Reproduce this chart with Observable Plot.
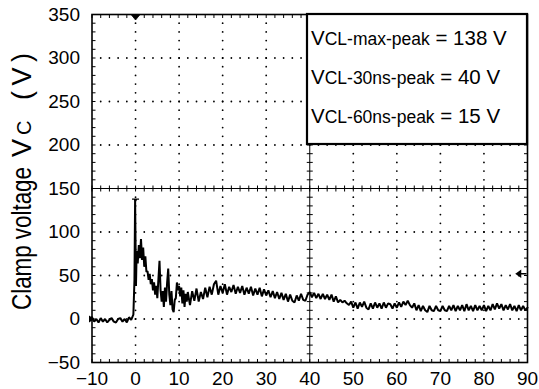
<!DOCTYPE html>
<html><head><meta charset="utf-8">
<script src="https://cdn.jsdelivr.net/npm/d3@7"></script>
<script src="https://cdn.jsdelivr.net/npm/@observablehq/plot@0.6"></script>
<style>
html,body{margin:0;padding:0;background:#fff;}
#chart{width:539px;height:389px;overflow:hidden;position:relative;}
svg text{white-space:pre;}
</style></head><body><div id="chart"></div>
<script>
// ---- data ----
const xTicks = [-10, 0, 10, 20, 30, 40, 50, 60, 70, 80, 90];
const yTicks = [-50, 0, 50, 100, 150, 200, 250, 300, 350];

const time = [
  -10,-9.5,-9,-8.5,-8,-7.5,-7,-6.5,-6,-5.5,-5,-4.5,-4,-3.5,-3,-2.5,-2,-1.5,-1,-0.5,-0.25,-0.1,0.1,
  0.25,0.5,0.75,1,1.25,1.5,1.75,2,2.25,2.5,2.75,3,3.25,3.5,3.75,4,4.25,4.5,4.75,5,5.25,5.5,5.75,6,
  6.25,6.5,6.75,7,7.25,7.5,7.75,8,8.25,8.5,8.75,9,9.25,9.5,9.75,10,10.25,10.5,10.75,11,11.25,11.5,11.75,12,
  12.5,13,13.5,14,14.5,15,15.5,16,16.5,17,17.5,18,18.5,19,19.5,20,20.5,21,21.5,22,22.5,23,23.5,24,24.5,25,
  25.5,26,26.5,27,27.5,28,28.5,29,29.5,30,30.5,31,31.5,32,32.5,33,33.5,34,34.5,35,35.5,36,36.5,37,37.5,38,
  38.5,39,39.5,40,40.5,41,41.5,42,42.5,43,43.5,44,44.5,45,45.5,46,46.5,47,47.5,48,48.5,49,49.5,50,50.5,51,
  51.5,52,52.5,53,53.5,54,54.5,55,55.5,56,56.5,57,57.5,58,58.5,59,59.5,60,60.5,61,61.5,62,62.5,63,63.5,64,
  64.5,65,65.5,66,66.5,67,67.5,68,68.5,69,69.5,70,70.5,71,71.5,72,72.5,73,73.5,74,74.5,75,75.5,76,76.5,77,
  77.5,78,78.5,79,79.5,80,80.5,81,81.5,82,82.5,83,83.5,84,84.5,85,85.5,86,86.5,87,87.5,88,88.5,89,89.5,90
];
const voltage = [
  2,-3,0,-4,1,-3,0,-4,-1,1,-3,-4,0,1,-3,0,-4,2,-1,5,45,138,38,
  78,64,85,70,92,68,82,60,72,54,55,45,52,40,46,33,42,28,38,24,46,67,33,20,
  32,14,36,20,42,58,28,16,32,11,8,22,24,42,33,38,26,36,18,33,14,29,20,31,
  16,32,21,35,20,31,23,36,25,37,28,40,44,28,38,30,40,28,37,31,39,29,37,30,38,28,
  36,29,37,27,35,28,36,26,34,27,33,25,32,24,31,23,30,22,29,20,28,21,19,27,21,29,
  22,21,28,31,25,30,24,29,23,29,23,28,22,28,20,26,19,22,19,21,18,16,20,13,19,12,
  19,14,20,13,11,18,12,19,13,18,12,19,13,18,17,12,18,13,19,14,20,16,21,16,13,18,
  10,16,9,15,10,8,15,10,9,15,10,9,15,10,9,15,10,16,9,15,10,16,9,17,10,15,
  9,16,10,15,10,16,9,15,10,17,11,18,12,17,10,16,11,17,10,15,9,16,10,15,10,13
];

const peakLabels = ["CL-max-peak", "CL-30ns-peak", "CL-60ns-peak"];
const peakValues = [138, 40, 15];

const triggerMarker = {t: 0, v: 350};
const peakMarker = {t: 0, v: 138};
const refMarker = {t: 90, v: 52};
const groundMarker = {t: -10, v: 0};

// ---- derived grid positions ----
const xMinor = d3.range(-10, 90.001, 2);
const yMinor = d3.range(-50, 350.001, 10);
const xGridLines = xTicks.filter(d => d !== -10 && d !== 90 && d !== 40);
const yGridLines = yTicks.filter(d => d !== -50 && d !== 350 && d !== 150);
const gridDots = [];
for (const gx of xGridLines) for (const gy of yMinor) if (gy > -50 && gy < 350) gridDots.push({x: gx, y: gy});
for (const gy of yGridLines) for (const gx of xMinor) if (gx > -10 && gx < 90) gridDots.push({x: gx, y: gy});

// ---- custom symbols ----
const sym = f => ({draw(c) { f(c); }});
const vCross = sym(c => { c.moveTo(0, -3); c.lineTo(0, 3); });
const hCross = sym(c => { c.moveTo(-3, 0); c.lineTo(3, 0); });
const upTick = sym(c => { c.moveTo(0, 0); c.lineTo(0, -3.5); });
const downTick = sym(c => { c.moveTo(0, 0); c.lineTo(0, 3.5); });
const rightTick = sym(c => { c.moveTo(0, 0); c.lineTo(3.5, 0); });
const leftTick = sym(c => { c.moveTo(0, 0); c.lineTo(-3.5, 0); });
const trigSym = sym(c => { c.moveTo(-4.5, 0); c.lineTo(4.5, 0); c.lineTo(0, 5.5); c.closePath(); });
const peakSym = sym(c => { c.moveTo(-3.5, -0.5); c.lineTo(3.5, -0.5); c.lineTo(3.5, 0.8); c.lineTo(1.5, 0.8); c.lineTo(0, 3.5); c.lineTo(-1.5, 0.8); c.lineTo(-3.5, 0.8); c.closePath(); });
const arrowSym = sym(c => { c.moveTo(-1, 0); c.lineTo(-11, 0); c.moveTo(-11, 0); c.lineTo(-7, -2.8); c.lineTo(-7, 2.8); c.closePath(); });
const groundSym = sym(c => { c.moveTo(-3, -3.5); c.lineTo(2.5, 0); c.lineTo(-3, 3.5); c.closePath(); });

const font = "'Liberation Sans', Arial, Helvetica, sans-serif";

const plot = Plot.plot({
  width: 539,
  height: 389,
  marginLeft: 91.5,
  marginRight: 12,
  marginTop: 14,
  marginBottom: 27,
  x: {domain: [-10, 90]},
  y: {domain: [-50, 350]},
  style: {fontFamily: font, fontSize: "19px", color: "black", background: "white", overflow: "visible"},
  marks: [
    Plot.dot(gridDots, {x: "x", y: "y", r: 0.9, fill: "black", stroke: "none"}),
    // edge ticks
    Plot.dot(xMinor, {x: d => d, y: () => -50, symbol: upTick, stroke: "black", fill: "none", strokeWidth: 1}),
    Plot.dot(xMinor, {x: d => d, y: () => 350, symbol: downTick, stroke: "black", fill: "none", strokeWidth: 1}),
    Plot.dot(yMinor, {x: () => -10, y: d => d, symbol: rightTick, stroke: "black", fill: "none", strokeWidth: 1}),
    Plot.dot(yMinor, {x: () => 90, y: d => d, symbol: leftTick, stroke: "black", fill: "none", strokeWidth: 1}),
    // center crosshair
    Plot.ruleY([150], {stroke: "black", strokeWidth: 1}),
    Plot.ruleX([40], {stroke: "black", strokeWidth: 1}),
    Plot.dot(xMinor, {x: d => d, y: () => 150, symbol: vCross, stroke: "black", fill: "none", strokeWidth: 1}),
    Plot.dot(yMinor, {x: () => 40, y: d => d, symbol: hCross, stroke: "black", fill: "none", strokeWidth: 1}),
    // trace
    Plot.line(time, {x: time, y: voltage, stroke: "black", strokeWidth: 2, strokeLinejoin: "miter"}),
    // markers
    Plot.dot([triggerMarker], {x: "t", y: "v", symbol: trigSym, fill: "black", stroke: "black", strokeWidth: 0.8}),
    Plot.dot([peakMarker], {x: "t", y: "v", symbol: peakSym, fill: "black", stroke: "none"}),
    Plot.dot([refMarker], {x: "t", y: "v", symbol: arrowSym, fill: "black", stroke: "black", strokeWidth: 1.5}),
    Plot.dot([groundMarker], {x: "t", y: "v", symbol: groundSym, fill: "black", stroke: "none"}),
    Plot.frame({stroke: "black", strokeWidth: 1.6}),
    Plot.axisX({ticks: xTicks, tickSize: 0, tickPadding: 8.5, label: null, fontSize: 19}),
    Plot.axisY({ticks: yTicks, tickSize: 0, tickPadding: 12, label: null, fontSize: 19})
  ]
});
document.getElementById("chart").appendChild(plot);

const svg = d3.select(plot);
const xs = plot.scale("x"), ys = plot.scale("y");

// legend box
const boxLeft = 307, boxRight = xs.apply(90), boxTop = ys.apply(350), boxBottom = 144;
svg.append("rect")
  .attr("x", boxLeft).attr("y", boxTop)
  .attr("width", boxRight - boxLeft).attr("height", boxBottom - boxTop)
  .attr("fill", "white").attr("stroke", "black").attr("stroke-width", 2.2);
peakLabels.forEach((lab, i) => {
  const t = svg.append("text")
    .attr("x", 311).attr("y", 45 + i * 39)
    .attr("text-anchor", "start")
    .attr("font-family", font).attr("fill", "black");
  t.append("tspan").attr("font-size", 20.5).text("V");
  t.append("tspan").attr("font-size", 17.5).text(lab);
  t.append("tspan").attr("font-size", 20.5).text(" = " + peakValues[i] + " V");
});

// y-axis title
const titleX = 31;
const piece = (txt, start, size, len, adjust) => {
  const t = svg.append("text")
    .attr("transform", `translate(${titleX},${start}) rotate(-90)`)
    .attr("text-anchor", "start")
    .attr("font-family", font).attr("font-size", size).attr("fill", "black")
    .text(txt);
  if (len) t.attr("textLength", len).attr("lengthAdjust", adjust);
};
piece("Clamp voltage", 310, 27, 143, "spacingAndGlyphs");
piece("V", 157, 27);
piece("C", 135, 20);
piece("(V)", 100, 27, 47, "spacing");
</script></body></html>
